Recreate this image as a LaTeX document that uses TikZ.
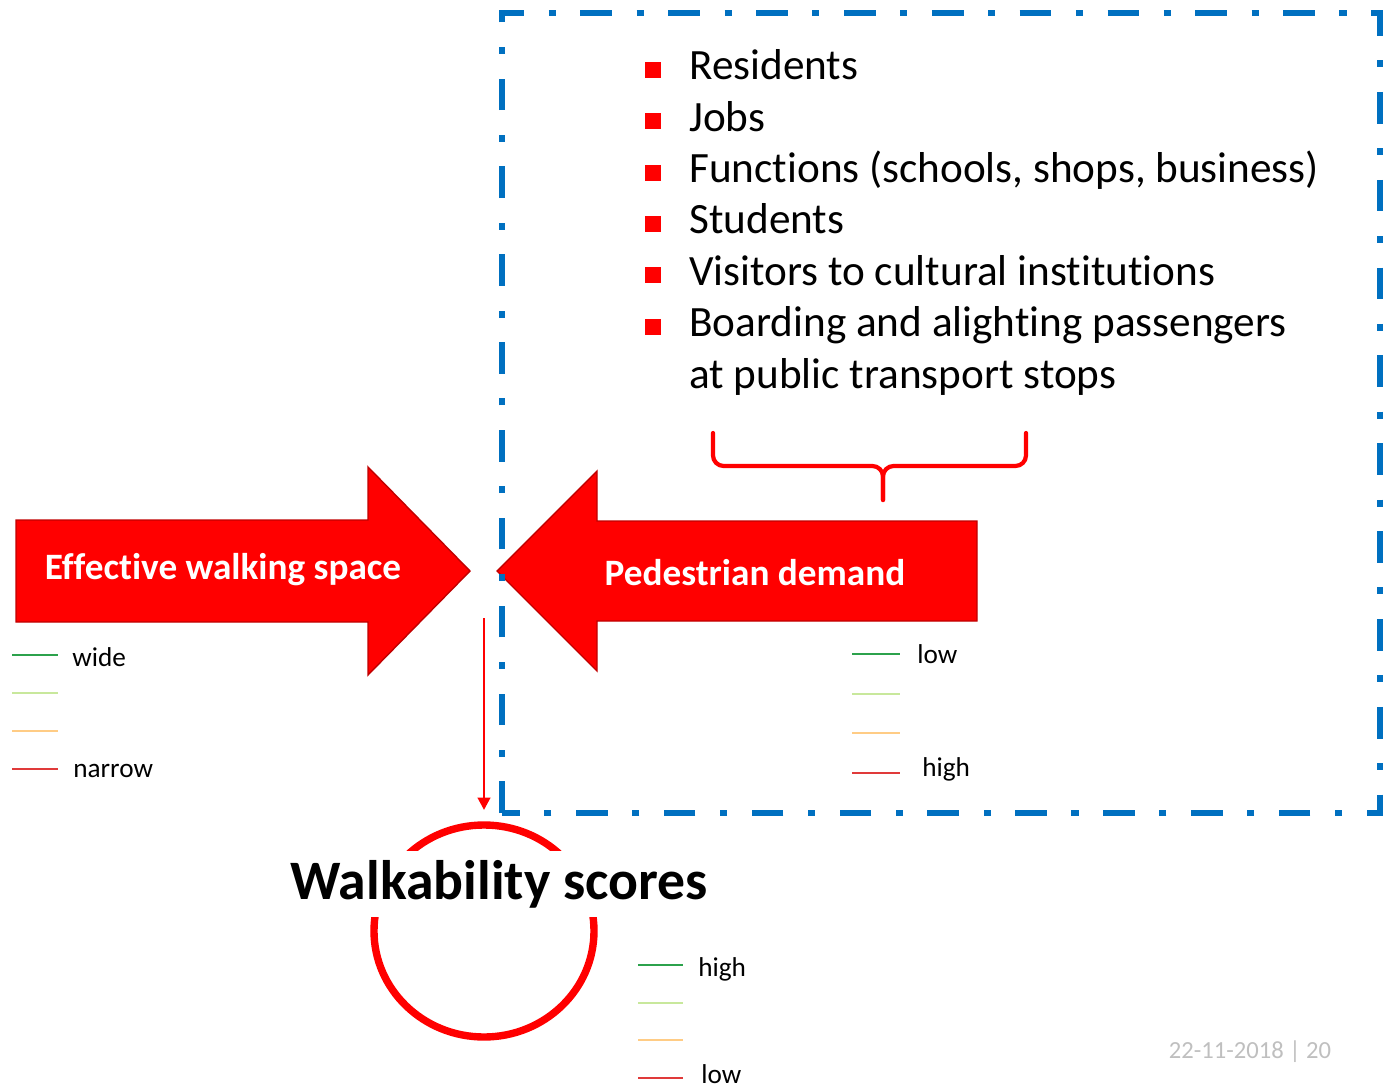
\documentclass[tikz,border=0pt]{standalone}
\usepackage{fontspec}
\setmainfont{Carlito}[Ligatures=NoCommon]
\usetikzlibrary{arrows.meta}
\definecolor{walk_red}{HTML}{FF0000}
\definecolor{walk_edge}{HTML}{C00000}
\definecolor{box_blue}{HTML}{0070C0}
\definecolor{lvl_green}{HTML}{2CA24C}
\definecolor{lvl_lime}{HTML}{C8E89C}
\definecolor{lvl_orange}{HTML}{FFCC85}
\definecolor{lvl_red}{HTML}{E03A3A}
\definecolor{date_grey}{HTML}{BFBFBF}

\begin{document}
\begin{tikzpicture}[
    x=0.02cm, y=-0.02cm, % un'unita = un pixel del riferimento
    bigarrow/.style={fill=walk_red, draw=walk_edge, line width=0.8pt},
    arrowtext/.style={text=white, font=\bfseries\fontsize{21.2}{25}\selectfont},
    item/.style={anchor=base west, inner sep=0pt, font=\fontsize{24.6}{29}\selectfont},
    legtext/.style={anchor=mid west, inner sep=0pt, font=\fontsize{15.5}{18}\selectfont},
    legline/.style={line width=1.1pt},
    dashbox/.style={box_blue, line width=3.4pt,
        dash pattern=on 18pt off 14pt on 4pt off 14pt}
]
\useasboundingbox (0,0) rectangle (1390,1088);

% --- Scala di colori (x sinistra, x destra, y iniziale, passo) ---
\def\levels#1#2#3#4{
    \foreach \c [count=\i from 0] in {lvl_green, lvl_lime, lvl_orange, lvl_red}
        \draw[legline, \c] (#1,{#3+\i*#4}) -- (#2,{#3+\i*#4});
}

% --- Frecce grandi ---
\draw[bigarrow] (16,520) -- (368,520) -- (368,467) -- (470,571)
    -- (368,675) -- (368,622) -- (16,622) -- cycle;
\node[arrowtext] (space) at (223,570) {Effective walking space};

\draw[bigarrow] (977,521) -- (597,521) -- (597,471) -- (497,571)
    -- (597,671) -- (597,621) -- (977,621) -- cycle;
\node[arrowtext] (demand) at (755,573) {Pedestrian demand};

% --- Riquadro tratteggiato ---
\draw[dashbox] (502,813) -- (502,13) -- (1380,13) -- (1380,813) -- cycle;

% --- Elenco della domanda ---
\foreach \txt [count=\i from 0] in {Residents, Jobs,
        {Functions (schools, shops, business)}, Students,
        Visitors to cultural institutions,
        Boarding and alighting passengers} {
    \fill[walk_red] (645,{62+\i*51.3}) rectangle (661,{78+\i*51.3});
    \node[item] (item\i) at (689,{80+\i*51.3}) {\txt};
}
\node[item] (item6) at (689,388) {at public transport stops};

% --- Parentesi graffa ---
\draw[walk_red, line width=2.4pt, line cap=round, rounded corners=6pt]
    (713,433) -- (713,466) -- (883,466) -- (883,500);
\draw[walk_red, line width=2.4pt, line cap=round, rounded corners=6pt]
    (1026,433) -- (1026,466) -- (883,466) -- (883,500);

% --- Legende ---
\levels{12}{58}{655}{38}
\node[legtext] (wide) at (72,662) {wide};
\node[legtext] (narrow) at (73,773) {narrow};

\levels{852}{900}{654}{39.7}
\node[legtext] (dlow) at (917,659) {low};
\node[legtext] (dhigh) at (922,772) {high};

\levels{638}{683}{965}{37.7}
\node[legtext] (shigh) at (698,972) {high};
\node[legtext] (slow) at (701,1079) {low};

% --- Punteggio ---
\draw[walk_red, line width=4.2pt] (484,931) ellipse (110 and 106);
\coordinate (meet) at (484,618);
\coordinate (score) at (484,810);
\draw[walk_red, line width=1.6pt, -{Triangle[length=7pt, width=7pt]}] (meet) -- (score);
\node[fill=white, inner sep=5pt, font=\bfseries\fontsize{31.7}{38}\selectfont]
    (walk) at (499,884) {Walkability scores};

% --- Data e pagina ---
\node[text=date_grey, font=\fontsize{14}{16}\selectfont] (date) at (1250,1052) {22-11-2018 | 20};

\end{tikzpicture}
\end{document}
